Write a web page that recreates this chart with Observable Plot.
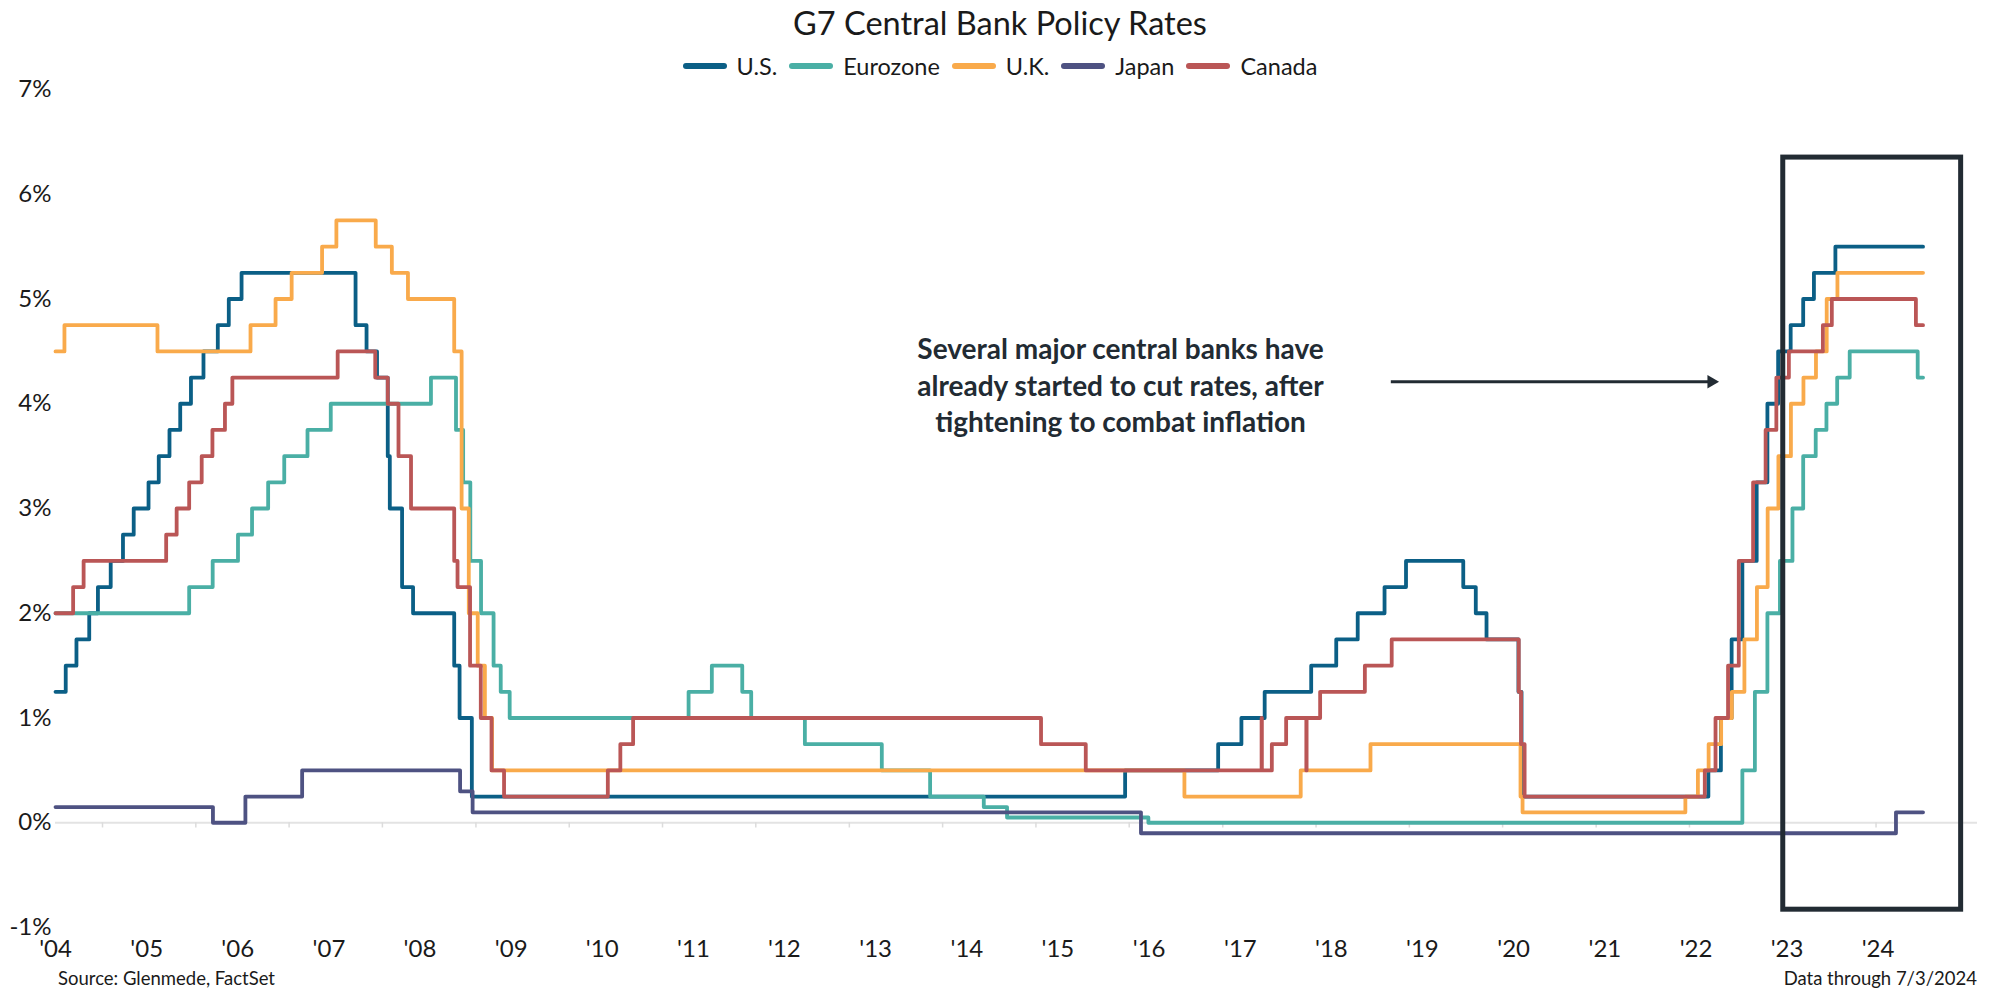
<!DOCTYPE html>
<html><head><meta charset="utf-8">
<script src="https://cdn.jsdelivr.net/npm/d3@7"></script>
<script src="https://cdn.jsdelivr.net/npm/@observablehq/plot@0.6"></script>
<style>
html,body{margin:0;padding:0;background:#fff;overflow:hidden;}
body{width:2000px;font-family:Lato,"Noto Sans",sans-serif;color:#1a1a1a;}
#title{height:46px;line-height:46px;text-align:center;font-size:32.5px;}
#legend{height:40px;display:flex;justify-content:center;align-items:center;font-size:23.5px;margin-bottom:-16px;position:relative;z-index:1;}
.item{display:flex;align-items:center;margin:0 6px;}
.sw{width:44px;height:6px;border-radius:3px;margin-right:10px;}
#chart{height:895px;}
#caption{display:flex;justify-content:space-between;padding:0 23px 0 58px;font-size:18.5px;height:26px;line-height:26px;}
</style></head><body>
<div id="title">G7 Central Bank Policy Rates</div>
<div id="legend"></div>
<div id="chart"></div>
<div id="caption"><span>Source: Glenmede, FactSet</span><span>Data through 7/3/2024</span></div>
<script>
const names = ["U.S.", "Eurozone", "U.K.", "Japan", "Canada"];
const colors = ["#0b5f86", "#4aafa5", "#f9aa4b", "#4e5282", "#ba5656"];

const us = [["2004-07-01",1.25],["2004-08-10",1.5],["2004-09-21",1.75],["2004-11-10",2.0],["2004-12-14",2.25],
["2005-02-02",2.5],["2005-03-22",2.75],["2005-05-03",3.0],["2005-06-30",3.25],["2005-08-09",3.5],["2005-09-20",3.75],
["2005-11-01",4.0],["2005-12-13",4.25],["2006-01-31",4.5],["2006-03-28",4.75],["2006-05-10",5.0],["2006-06-29",5.25],
["2007-09-18",4.75],["2007-10-31",4.5],["2007-12-11",4.25],["2008-01-22",3.5],["2008-01-30",3.0],["2008-03-18",2.25],
["2008-04-30",2.0],["2008-10-08",1.5],["2008-10-29",1.0],["2008-12-16",0.25],["2015-12-16",0.5],["2016-12-14",0.75],
["2017-03-15",1.0],["2017-06-14",1.25],["2017-12-13",1.5],["2018-03-21",1.75],["2018-06-13",2.0],["2018-09-26",2.25],
["2018-12-19",2.5],["2019-07-31",2.25],["2019-09-18",2.0],["2019-10-30",1.75],["2020-03-03",1.25],["2020-03-15",0.25],
["2022-03-16",0.5],["2022-05-04",1.0],["2022-06-15",1.75],["2022-07-27",2.5],["2022-09-21",3.25],["2022-11-02",4.0],
["2022-12-14",4.5],["2023-02-01",4.75],["2023-03-22",5.0],["2023-05-03",5.25],["2023-07-26",5.5],["2024-07-03",5.5]];

const eurozone = [["2004-07-01",2.0],["2005-12-06",2.25],["2006-03-08",2.5],["2006-06-15",2.75],["2006-08-09",3.0],
["2006-10-11",3.25],["2006-12-13",3.5],["2007-03-14",3.75],["2007-06-13",4.0],["2008-07-09",4.25],["2008-10-15",3.75],
["2008-11-12",3.25],["2008-12-10",2.5],["2009-01-21",2.0],["2009-03-11",1.5],["2009-04-08",1.25],["2009-05-13",1.0],
["2011-04-13",1.25],["2011-07-13",1.5],["2011-11-09",1.25],["2011-12-14",1.0],["2012-07-11",0.75],["2013-05-08",0.5],
["2013-11-13",0.25],["2014-06-11",0.15],["2014-09-10",0.05],["2016-03-16",0.0],["2022-07-27",0.5],["2022-09-14",1.25],
["2022-11-02",2.0],["2022-12-21",2.5],["2023-02-08",3.0],["2023-03-22",3.5],["2023-05-10",3.75],["2023-06-21",4.0],
["2023-08-02",4.25],["2023-09-20",4.5],["2024-06-12",4.25],["2024-07-03",4.25]];

const uk = [["2004-07-01",4.5],["2004-08-05",4.75],["2005-08-04",4.5],["2006-08-03",4.75],["2006-11-09",5.0],
["2007-01-11",5.25],["2007-05-10",5.5],["2007-07-05",5.75],["2007-12-06",5.5],["2008-02-07",5.25],["2008-04-10",5.0],
["2008-10-08",4.5],["2008-11-06",3.0],["2008-12-04",2.0],["2009-01-08",1.5],["2009-02-05",1.0],["2009-03-05",0.5],
["2016-08-04",0.25],["2017-11-02",0.5],["2018-08-02",0.75],["2020-03-11",0.25],["2020-03-19",0.1],["2021-12-16",0.25],
["2022-02-03",0.5],["2022-03-17",0.75],["2022-05-05",1.0],["2022-06-16",1.25],["2022-08-04",1.75],["2022-09-22",2.25],
["2022-11-03",3.0],["2022-12-15",3.5],["2023-02-02",4.0],["2023-03-23",4.25],["2023-05-11",4.5],["2023-06-22",5.0],
["2023-08-03",5.25],["2024-07-03",5.25]];

const japan = [["2004-07-01",0.15],["2006-03-09",0.0],["2006-07-14",0.25],["2007-02-21",0.5],["2008-10-31",0.3],
["2008-12-19",0.1],["2016-02-16",-0.1],["2024-03-19",0.1],["2024-07-03",0.1]];

const canada = [["2004-07-01",2.0],["2004-09-08",2.25],["2004-10-19",2.5],["2005-09-07",2.75],["2005-10-18",3.0],
["2005-12-06",3.25],["2006-01-24",3.5],["2006-03-07",3.75],["2006-04-25",4.0],["2006-05-24",4.25],["2007-07-10",4.5],
["2007-12-04",4.25],["2008-01-22",4.0],["2008-03-04",3.5],["2008-04-22",3.0],["2008-10-08",2.5],["2008-10-21",2.25],
["2008-12-09",1.5],["2009-01-20",1.0],["2009-03-03",0.5],["2009-04-21",0.25],["2010-06-01",0.5],["2010-07-20",0.75],
["2010-09-08",1.0],["2015-01-21",0.75],["2015-07-15",0.5],["2017-06-02",1.0],["2017-06-03",0.5],["2017-07-12",0.75],
["2017-09-06",1.0],["2017-11-24",0.5],["2017-11-25",1.0],["2018-01-17",1.25],["2018-07-11",1.5],["2018-10-24",1.75],
["2020-03-04",1.25],["2020-03-13",0.75],["2020-03-27",0.25],["2022-03-02",0.5],["2022-04-13",1.0],["2022-06-01",1.5],
["2022-07-13",2.5],["2022-09-07",3.25],["2022-10-26",3.75],["2022-12-07",4.25],["2023-01-25",4.5],["2023-06-07",4.75],
["2023-07-12",5.0],["2024-06-05",4.75],["2024-07-03",4.75]];

const yTicks = [-1, 0, 1, 2, 3, 4, 5, 6, 7];
const xLabels = ["'04","'05","'06","'07","'08","'09","'10","'11","'12","'13","'14","'15","'16","'17","'18","'19","'20","'21","'22","'23","'24"];
const xLabelDates = ["2004-07-01","2005-06-23","2006-06-14","2007-06-06","2008-05-27","2009-05-19","2010-05-10","2011-05-02",
"2012-04-22","2013-04-14","2014-04-06","2015-03-28","2016-03-19","2017-03-11","2018-03-02","2019-02-21","2020-02-13",
"2021-02-04","2022-01-27","2023-01-18","2024-01-09"];
const yearTickYears = [2005,2006,2007,2008,2009,2010,2011,2012,2013,2014,2015,2016,2017,2018,2019,2020,2021,2022,2023,2024];

const noteText = ["Several major central banks have\nalready started to cut rates, after\ntightening to combat inflation"];
const noteAt = [{date: "2015-11-28", value: 4.19}];
const arrowAt = [{from: "2018-11-13", to: "2022-04-27", value: 4.21}];
const boxAt = [{from: "2023-01-03", to: "2024-11-29", low: -0.83, high: 6.35}];

const series = [us, eurozone, uk, japan, canada];
const rows = series.flatMap((s, k) => s.map(([d, v]) => ({country: names[k], date: new Date(d), rate: v})));
const labelMap = new Map(xLabelDates.map((d, i) => [+new Date(d), xLabels[i]]));
const yearTicks = yearTickYears.map(y => new Date(Date.UTC(y, 0, 1)));

const legend = document.getElementById("legend");
names.forEach((n, i) => {
  const it = document.createElement("div"); it.className = "item";
  it.innerHTML = `<span class="sw" style="background:${colors[i]}"></span><span>${n}</span>`;
  legend.appendChild(it);
});

const ink = "#222b33";
const chart = Plot.plot({
  width: 2000, height: 895,
  marginLeft: 55, marginRight: 23, marginTop: 19, marginBottom: 38,
  style: {fontFamily: "Lato, 'Noto Sans', sans-serif", fontSize: "24px", color: "#1a1a1a", background: "white"},
  x: {type: "utc", domain: [new Date("2004-07-01"), new Date("2025-02-01")], label: null},
  y: {domain: [-1, 7], label: null},
  color: {domain: names, range: colors},
  marks: [
    Plot.ruleY([0], {stroke: "#e3e3e3", strokeWidth: 2}),
    Plot.ruleX(yearTicks, {x: d => d, y1: 0, y2: -0.05, stroke: "#dcdcdc", strokeWidth: 1.5}),
    Plot.axisY({ticks: yTicks, tickSize: 0, tickPadding: 4, tickFormat: d => d + "%", fontSize: 24}),
    Plot.axisX({ticks: xLabelDates.map(d => new Date(d)), tickSize: 0, tickPadding: 12, tickFormat: d => labelMap.get(+d), fontSize: 24}),
    Plot.line(rows, {x: "date", y: "rate", z: "country", stroke: "country", curve: "step-after", strokeWidth: 3.8}),
    Plot.rect(boxAt, {x1: d => new Date(d.from), x2: d => new Date(d.to), y1: "low", y2: "high", fill: "none", stroke: ink, strokeWidth: 5}),
    Plot.link(arrowAt, {x1: d => new Date(d.from), x2: d => new Date(d.to), y1: "value", y2: "value", stroke: ink, strokeWidth: 3, dx: -6}),
    Plot.dot(arrowAt, {x: d => new Date(d.to), y: "value", symbol: "triangle", rotate: 90, r: 5, fill: ink, stroke: "none", dx: -7.8}),
    Plot.text(noteAt, {x: d => new Date(d.date), y: "value", text: (d, i) => noteText[i], fontWeight: "bold", fontSize: 28, lineHeight: 1.3, fill: ink})
  ]
});
document.getElementById("chart").appendChild(chart);
</script>
</body></html>
